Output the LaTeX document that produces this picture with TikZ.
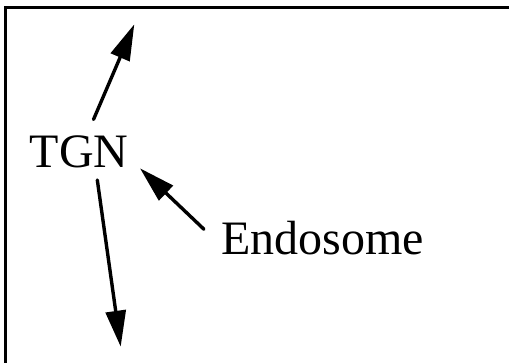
\documentclass[tikz,border=0pt]{standalone}
\usepackage{fontspec}
\setmainfont{Liberation Serif}
\usetikzlibrary{arrows.meta}
\begin{document}
\begin{tikzpicture}[x=1pt,y=1pt,
  lbl/.style={inner sep=0pt, font=\fontsize{48}{52}\selectfont},
  arr/.style={line width=3.4pt, line cap=round,
              -{Triangle[length=36pt,width=20pt]}},
  frame/.style={line width=2.4pt}]
  \useasboundingbox (0,0) rectangle (509,362);
  \clip (0,0) rectangle (509,362);
  \fill[white] (0,0) rectangle (509,362);
  % panel border (only left and top edges fall inside the picture)
  \draw[frame] (5.5,-20) -- (5.5,354.5) -- (530,354.5);
  % labels
  \node[lbl, anchor=base west] (tgn) at (29.5,194.3) {TGN};
  \node[lbl, anchor=base west] (endo) at (221,107) {Endosome};
  % arrow end points
  \coordinate (upstart) at (93.5,242.5);
  \coordinate (uptip) at (134.3,337.7);
  \coordinate (downstart) at (97.3,182);
  \coordinate (downtip) at (120.7,15.3);
  \coordinate (endostart) at (204,132.7);
  \coordinate (endotip) at (140,193.7);
  % arrows
  \draw[arr] (upstart) -- (uptip);
  \draw[arr] (downstart) -- (downtip);
  \draw[arr] (endostart) -- (endotip);
\end{tikzpicture}
\end{document}
